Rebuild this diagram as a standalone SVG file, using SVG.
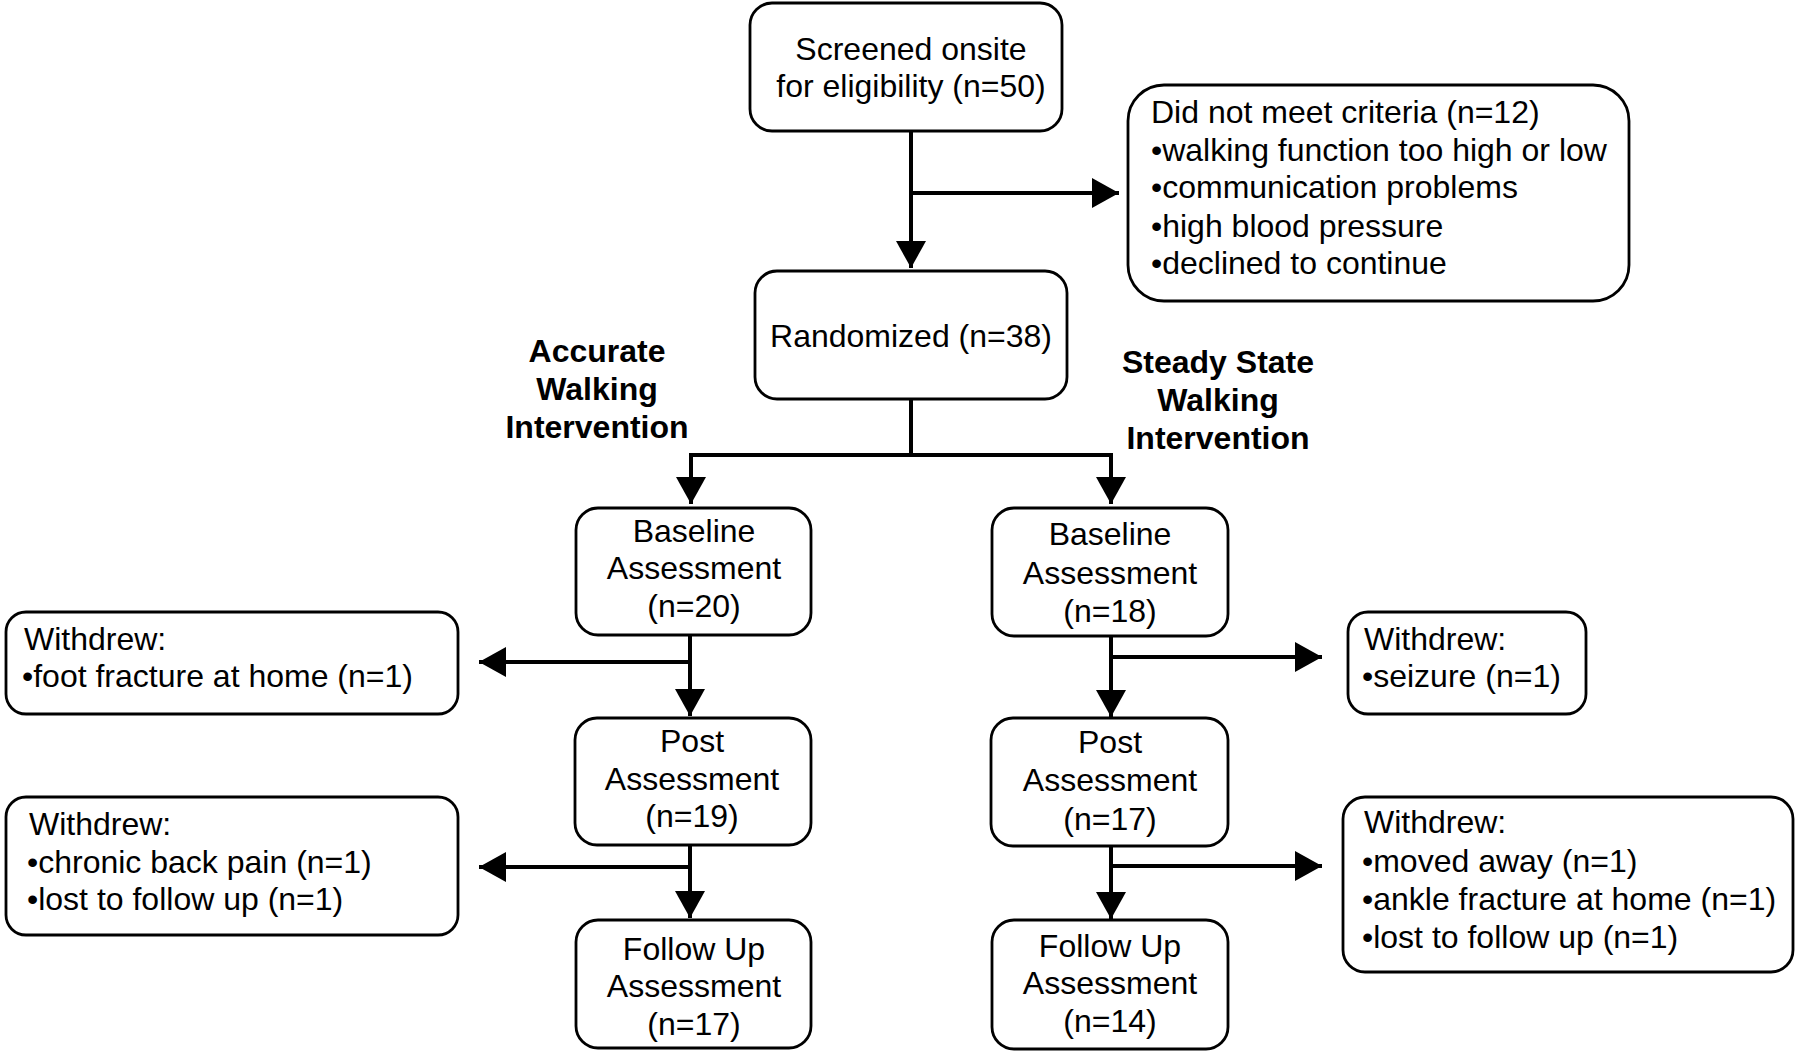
<svg xmlns="http://www.w3.org/2000/svg" width="1798" height="1057" viewBox="0 0 1798 1057">
<style>
.box{fill:#fff;stroke:#000;stroke-width:2.8}
.t{font-family:"Liberation Sans",Arial,sans-serif;font-size:32px;fill:#000}
.c{text-anchor:middle}
.b{font-weight:bold}
.con{fill:none;stroke:#000;stroke-width:4}
</style>
<defs>
<marker id="ah" viewBox="0 0 27 30" refX="27" refY="15" markerWidth="27" markerHeight="30" orient="auto" markerUnits="userSpaceOnUse">
<path d="M0,0 L27,15 L0,30 Z" fill="#000"/>
</marker>
</defs>
<rect width="1798" height="1057" fill="#fff"/>
<g id="connectors">
<path class="con" d="M911,131 V268" marker-end="url(#ah)"/>
<path class="con" d="M911,193 H1119" marker-end="url(#ah)"/>
<path class="con" d="M911,399 V455 M691,455 H1111"/>
<path class="con" d="M691,453 V504" marker-end="url(#ah)"/>
<path class="con" d="M1111,453 V504" marker-end="url(#ah)"/>
<path class="con" d="M690,634 V716" marker-end="url(#ah)"/>
<path class="con" d="M690,662 H479" marker-end="url(#ah)"/>
<path class="con" d="M690,845 V918" marker-end="url(#ah)"/>
<path class="con" d="M690,867 H479" marker-end="url(#ah)"/>
<path class="con" d="M1111,636 V717" marker-end="url(#ah)"/>
<path class="con" d="M1111,657 H1322" marker-end="url(#ah)"/>
<path class="con" d="M1111,846 V919" marker-end="url(#ah)"/>
<path class="con" d="M1111,866 H1322" marker-end="url(#ah)"/>
</g>
<g id="screened">
<rect class="box" x="750" y="3" width="312" height="128" rx="22"/>
<text class="t c" x="911" y="60">Screened onsite</text>
<text class="t c" x="911" y="97">for eligibility (n=50)</text>
</g>
<g id="excluded">
<rect class="box" x="1128" y="85" width="501" height="216" rx="36"/>
<text class="t" x="1151" y="123">Did not meet criteria (n=12)</text>
<text class="t" x="1151" y="161">•walking function too high or low</text>
<text class="t" x="1151" y="198">•communication problems</text>
<text class="t" x="1151" y="237">•high blood pressure</text>
<text class="t" x="1151" y="274">•declined to continue</text>
</g>
<g id="randomized">
<rect class="box" x="755" y="271" width="312" height="128" rx="22"/>
<text class="t c" x="911" y="347">Randomized (n=38)</text>
</g>
<g id="label-accurate">
<text class="t c b" x="597" y="362">Accurate</text>
<text class="t c b" x="597" y="400">Walking</text>
<text class="t c b" x="597" y="438">Intervention</text>
</g>
<g id="label-steady">
<text class="t c b" x="1218" y="373">Steady State</text>
<text class="t c b" x="1218" y="411">Walking</text>
<text class="t c b" x="1218" y="449">Intervention</text>
</g>
<g id="baseline-left">
<rect class="box" x="576" y="508" width="235" height="127" rx="22"/>
<text class="t c" x="694" y="542">Baseline</text>
<text class="t c" x="694" y="579">Assessment</text>
<text class="t c" x="694" y="617">(n=20)</text>
</g>
<g id="post-left">
<rect class="box" x="575" y="718" width="236" height="127" rx="22"/>
<text class="t c" x="692" y="752">Post</text>
<text class="t c" x="692" y="790">Assessment</text>
<text class="t c" x="692" y="827">(n=19)</text>
</g>
<g id="followup-left">
<rect class="box" x="576" y="920" width="235" height="128" rx="22"/>
<text class="t c" x="694" y="960">Follow Up</text>
<text class="t c" x="694" y="997">Assessment</text>
<text class="t c" x="694" y="1035">(n=17)</text>
</g>
<g id="baseline-right">
<rect class="box" x="992" y="508" width="236" height="128" rx="22"/>
<text class="t c" x="1110" y="545">Baseline</text>
<text class="t c" x="1110" y="584">Assessment</text>
<text class="t c" x="1110" y="622">(n=18)</text>
</g>
<g id="post-right">
<rect class="box" x="991" y="718" width="237" height="128" rx="22"/>
<text class="t c" x="1110" y="753">Post</text>
<text class="t c" x="1110" y="791">Assessment</text>
<text class="t c" x="1110" y="830">(n=17)</text>
</g>
<g id="followup-right">
<rect class="box" x="992" y="920" width="236" height="129" rx="22"/>
<text class="t c" x="1110" y="957">Follow Up</text>
<text class="t c" x="1110" y="994">Assessment</text>
<text class="t c" x="1110" y="1032">(n=14)</text>
</g>
<g id="withdrew-1">
<rect class="box" x="6" y="612" width="452" height="102" rx="20"/>
<text class="t" x="24" y="650">Withdrew:</text>
<text class="t" x="22" y="687">•foot fracture at home (n=1)</text>
</g>
<g id="withdrew-2">
<rect class="box" x="1348" y="612" width="238" height="102" rx="20"/>
<text class="t" x="1364" y="650">Withdrew:</text>
<text class="t" x="1362" y="687">•seizure (n=1)</text>
</g>
<g id="withdrew-3">
<rect class="box" x="6" y="797" width="452" height="138" rx="20"/>
<text class="t" x="29" y="835">Withdrew:</text>
<text class="t" x="27" y="873">•chronic back pain (n=1)</text>
<text class="t" x="27" y="910">•lost to follow up (n=1)</text>
</g>
<g id="withdrew-4">
<rect class="box" x="1343" y="797" width="450" height="175" rx="22"/>
<text class="t" x="1364" y="833">Withdrew:</text>
<text class="t" x="1362" y="872">•moved away (n=1)</text>
<text class="t" x="1362" y="910">•ankle fracture at home (n=1)</text>
<text class="t" x="1362" y="948">•lost to follow up (n=1)</text>
</g>
</svg>
